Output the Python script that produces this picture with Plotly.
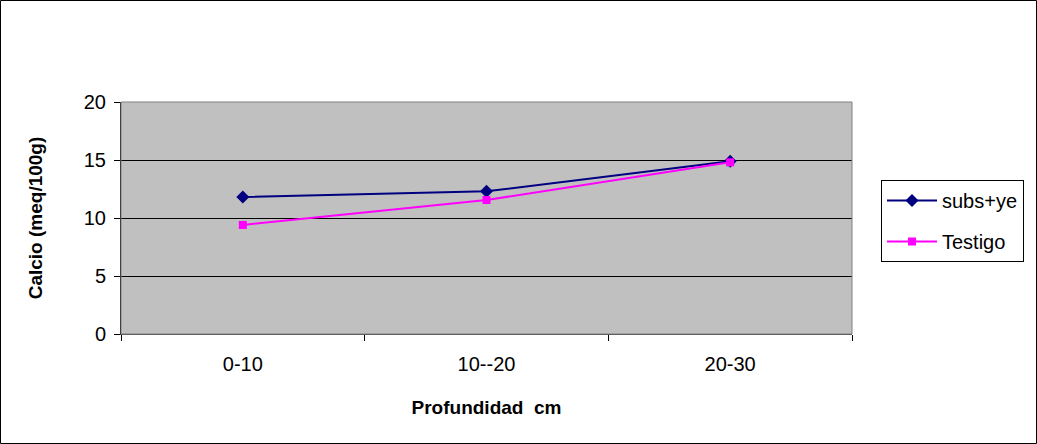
import plotly.graph_objects as go

profundidad = ["0-10", "10--20", "20-30"]
subs_ye = [11.8, 12.3, 14.9]
testigo = [9.4, 11.55, 14.8]
y_ticks = [0, 5, 10, 15, 20]

W, H = 1037, 444
L, R, T, B = 121, 185, 102, 110
pw, ph = W - L - R, H - T - B

fig = go.Figure()
fig.add_trace(go.Scatter(
    x=profundidad, y=subs_ye, name="subs+ye", mode="lines+markers",
    legendgroup="a",
    line=dict(color="#000080", width=2),
    marker=dict(symbol="diamond", size=10, color="#000080"),
))
fig.add_trace(go.Scatter(
    x=profundidad, y=testigo, name="Testigo", mode="lines+markers",
    legendgroup="b",
    line=dict(color="#FF00FF", width=2),
    marker=dict(symbol="square", size=8, color="#FF00FF"),
))

font = "Liberation Sans, Arial, sans-serif"

fig.update_layout(
    width=W, height=H,
    margin=dict(l=L, r=R, t=T, b=B),
    paper_bgcolor="white",
    plot_bgcolor="#C0C0C0",
    font=dict(family=font, color="black", size=20),
    showlegend=True,
    legend=dict(
        x=(881 - L) / pw, y=(H - B - 180) / ph,
        xanchor="left", yanchor="top",
        bordercolor="black", borderwidth=1,
        bgcolor="white",
        font=dict(size=20),
        itemwidth=50,
        tracegroupgap=12,
    ),
    xaxis=dict(
        type="category",
        range=[-0.5, 2.5],
        tickson="boundaries",
        ticks="outside", ticklen=6, tickcolor="black",
        ticklabelstandoff=12,
        showgrid=False, zeroline=False,
        showline=True, linecolor="#404040", linewidth=1,
        title=dict(text="<b>Profundidad  cm</b>", font=dict(size=19), standoff=26),
        tickfont=dict(size=20),
    ),
    yaxis=dict(
        range=[0, 20],
        tickvals=y_ticks,
        ticks="outside", ticklen=6, tickcolor="black",
        ticklabelstandoff=4,
        showgrid=True, gridcolor="black", gridwidth=1,
        zeroline=False,
        showline=True, linecolor="black", linewidth=1,
        title=dict(text="<b>Calcio (meq/100g)</b>", font=dict(size=19), standoff=36),
        tickfont=dict(size=20),
    ),
    shapes=[
        dict(type="rect", xref="paper", yref="paper",
             x0=(0.5 - L) / pw, x1=(W - 0.5 - L) / pw,
             y0=-(B - 0.5) / ph, y1=(H - B - 0.5) / ph,
             line=dict(color="black", width=1), layer="below"),
        dict(type="rect", xref="paper", yref="paper",
             x0=0, x1=1, y0=0, y1=1,
             line=dict(color="#808080", width=1)),
    ],
)

fig.write_html("out.html")
